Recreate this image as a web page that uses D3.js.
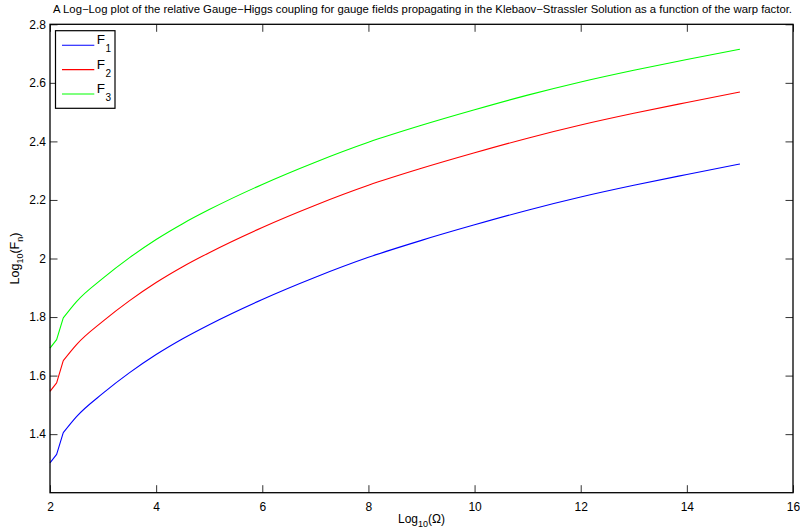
<!DOCTYPE html>
<html>
<head>
<meta charset="utf-8">
<script src="https://cdn.jsdelivr.net/npm/d3@7"></script>
<style>
  html, body { margin: 0; padding: 0; background: #fff; }
  svg { display: block; font-family: "Liberation Sans", Arial, Helvetica, sans-serif; }
</style>
</head>
<body>
<svg id="chart" width="800" height="531"></svg>
<script>
// log10(Omega) sample positions
const logOmega = [2, 2.125, 2.25, 2.5, 3, 3.5, 4, 4.5, 5, 6, 7, 8, 9, 10, 11, 12, 13, 14, 15];

// log10(F_n) for each coupling
const F1 = [1.302, 1.331, 1.405, 1.460, 1.540, 1.610, 1.672, 1.726, 1.774, 1.860, 1.936, 2.004, 2.062, 2.115, 2.165, 2.210, 2.250, 2.287, 2.323];
const F2 = [1.546, 1.575, 1.651, 1.706, 1.786, 1.856, 1.918, 1.972, 2.020, 2.106, 2.182, 2.250, 2.308, 2.361, 2.411, 2.456, 2.496, 2.533, 2.569];
const F3 = [1.694, 1.723, 1.797, 1.853, 1.933, 2.003, 2.065, 2.119, 2.167, 2.253, 2.329, 2.397, 2.455, 2.508, 2.558, 2.603, 2.643, 2.680, 2.715];

const seriesNames = ["1", "2", "3"];
const seriesColors = ["#0000ff", "#ff0000", "#00ff00"];
const seriesValues = [F1, F2, F3];

const xTicks = [2, 4, 6, 8, 10, 12, 14, 16];
const yTicks = [1.4, 1.6, 1.8, 2.0, 2.2, 2.4, 2.6, 2.8];
const xDomain = [2, 16];
const yDomain = [1.2, 2.8];

const titleText = "A Log\u2212Log plot of the relative Gauge\u2212Higgs coupling for gauge fields propagating in the Klebaov\u2212Strassler Solution as a function of the warp factor.";

const svg = d3.select("#chart");
const plotL = 50, plotR = 793, plotT = 24.3, plotB = 492.7;

const x = d3.scaleLinear().domain(xDomain).range([plotL, plotR]);
const y = d3.scaleLinear().domain(yDomain).range([plotB, plotT]);

const tickLen = 7.5;
const fmtY = d => (d === 2 ? "2" : d3.format(".1f")(d));

// bottom axis with labels
const gx = svg.append("g").attr("transform", `translate(0,${plotB})`)
  .call(d3.axisBottom(x).tickValues(xTicks).tickSizeInner(-tickLen).tickSizeOuter(0).tickPadding(10).tickFormat(d3.format("d")));
// top axis, ticks only
const gxt = svg.append("g").attr("transform", `translate(0,${plotT})`)
  .call(d3.axisTop(x).tickValues(xTicks).tickSizeInner(-tickLen).tickSizeOuter(0).tickFormat(""));
// left axis with labels
const gy = svg.append("g").attr("transform", `translate(${plotL},0)`)
  .call(d3.axisLeft(y).tickValues(yTicks).tickSizeInner(-tickLen).tickSizeOuter(0).tickPadding(4).tickFormat(fmtY));
// right axis, ticks only
const gyr = svg.append("g").attr("transform", `translate(${plotR},0)`)
  .call(d3.axisRight(y).tickValues(yTicks).tickSizeInner(-tickLen).tickSizeOuter(0).tickFormat(""));

[gx, gxt, gy, gyr].forEach(g => {
  g.select(".domain").remove();
  g.selectAll(".tick line").attr("stroke", "#333").attr("stroke-width", 1);
  g.selectAll(".tick text").attr("fill", "#000").attr("font-size", 12)
    .attr("font-family", "'Liberation Sans', Arial, sans-serif");
});

// curves: straight segments through the first coarse steps, smooth afterwards
const pts = vals => vals.map((v, i) => [x(logOmega[i]), y(v)]);
const lineLinear = d3.line();
const lineSmooth = d3.line().curve(d3.curveMonotoneX);
const KINK = 2;
seriesValues.forEach((vals, k) => {
  const p = pts(vals);
  const d = lineLinear(p.slice(0, KINK + 1)) + lineSmooth(p.slice(KINK));
  svg.append("path")
    .attr("d", d)
    .attr("fill", "none")
    .attr("stroke", seriesColors[k])
    .attr("stroke-width", 1.1)
    .attr("stroke-linejoin", "round");
});

// axes box
svg.append("rect")
  .attr("x", plotL).attr("y", plotT)
  .attr("width", plotR - plotL).attr("height", plotB - plotT)
  .attr("fill", "none").attr("stroke", "#000").attr("stroke-width", 1.3);

// title
svg.append("text")
  .attr("x", 53).attr("y", 13)
  .attr("font-size", 10.5)
  .attr("textLength", 739).attr("lengthAdjust", "spacingAndGlyphs")
  .text(titleText);

// x-axis label: Log10(Ω)
const xl = svg.append("text")
  .attr("x", (plotL + plotR) / 2).attr("y", 522.5)
  .attr("text-anchor", "middle").attr("font-size", 12);
xl.append("tspan").text("Log");
xl.append("tspan").attr("font-size", 9).attr("dy", 4).text("10");
xl.append("tspan").attr("dy", -4).text("(\u03A9)");

// y-axis label: Log10(Fn)
const yl = svg.append("text")
  .attr("transform", `translate(19,${(plotT + plotB) / 2}) rotate(-90)`)
  .attr("text-anchor", "middle").attr("font-size", 12.5);
yl.append("tspan").text("Log");
yl.append("tspan").attr("font-size", 9).attr("dy", 4).text("10");
yl.append("tspan").attr("dy", -4).text("(F");
yl.append("tspan").attr("font-size", 9).attr("dy", 4).text("n");
yl.append("tspan").attr("dy", -4).text(")");

// legend
const lg = svg.append("g");
lg.append("rect")
  .attr("x", 55.5).attr("y", 30.7).attr("width", 59.5).attr("height", 77.6)
  .attr("fill", "#fff").attr("stroke", "#000").attr("stroke-width", 1.2);
const legendY = [45.3, 69.6, 94];
seriesNames.forEach((n, k) => {
  lg.append("line")
    .attr("x1", 62).attr("x2", 94.3)
    .attr("y1", legendY[k]).attr("y2", legendY[k])
    .attr("stroke", seriesColors[k]).attr("stroke-width", 1.1);
  const t = lg.append("text")
    .attr("x", 96.7).attr("y", legendY[k] - 1)
    .attr("font-size", 13.5)
    .attr("font-family", "'Liberation Sans Narrow', 'Liberation Sans', Arial, sans-serif");
  t.append("tspan").text("F");
  t.append("tspan").attr("font-size", 10).attr("dy", 8).attr("dx", 0.5).text(n);
});
</script>
</body>
</html>
